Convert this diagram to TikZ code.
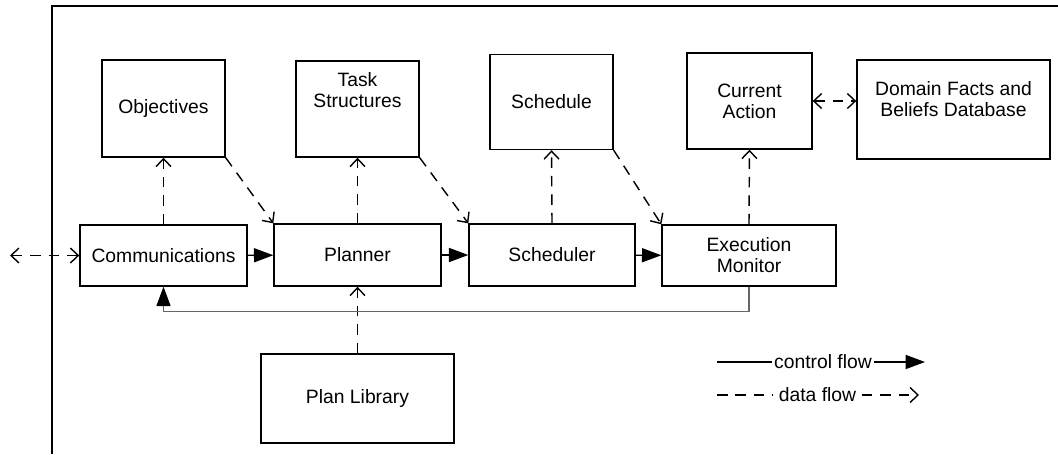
\documentclass[tikz,border=0pt]{standalone}
\usepackage{fontspec}
\setmainfont{Liberation Sans}
\usetikzlibrary{arrows.meta,positioning}

\begin{document}
\begin{tikzpicture}[x=0.02cm,y=-0.02cm,
font=\fontsize{11}{12}\selectfont,
>={Straight Barb[length=4.5pt,width=8.5pt]},
box/.style={draw,line width=0.8pt,inner sep=0pt,align=center},
data/.style={line width=0.8pt,dash pattern=on 6pt off 4.5pt},
ctrl/.style={line width=0.8pt,-{Triangle[length=11pt,width=8pt,color=black]}}]
\useasboundingbox (0,0) rectangle (1058,454);
\draw[line width=1.1pt] (1058,6) -- (52,6) -- (52,454);
% stores along the top
\node[box,minimum width=2.46cm,minimum height=1.94cm] (obj) at (163.5,108.5){Objectives};
\node[box,minimum width=2.46cm,minimum height=1.92cm] (task) at (357.5,109){};
\node[align=center] (tasktxt) at (357.5,90){Task\\Structures};
\node[box,minimum width=2.46cm,minimum height=1.9cm] (sch) at (551.5,102){Schedule};
\node[box,minimum width=2.5cm,minimum height=1.92cm] (cur) at (749.5,101){Current\\Action};
\node[box,minimum width=3.86cm,minimum height=1.98cm] (dom) at (953.5,109.5){};
\node[align=center] (domtxt) at (953.5,99){Domain Facts and\\Beliefs Database};
% processing chain
\node[box,minimum width=3.34cm,minimum height=1.22cm] (comm) at (163.5,255.5){Communications};
\node[box,minimum width=3.34cm,minimum height=1.24cm] (plan) at (357.5,255){Planner};
\node[box,minimum width=3.32cm,minimum height=1.24cm] (sched) at (552,255){Scheduler};
\node[box,minimum width=3.48cm,minimum height=1.22cm] (exec) at (749,255.5){Execution\\Monitor};
\node[box,minimum width=3.86cm,minimum height=1.78cm] (lib) at (357.5,398.5){Plan Library};
\coordinate (ext) at (10,255.5);
% data flow
\draw[data,<->] (ext) -- (comm.west);
\draw[data,->] (comm.north) -- (obj.south);
\draw[data,->] (obj.south east) -- (plan.north west);
\draw[data,->] (plan.north) -- (task.south);
\draw[data,->] (task.south east) -- (sched.north west);
\draw[data,->] (sched.north) -- (sch.south);
\draw[data,->] (sch.south east) -- (exec.north west);
\draw[data,->] (exec.north) -- (cur.south);
\draw[data,<->] (cur.east) -- (dom.west |- cur.east);
\draw[data,->] (lib.north) -- (plan.south);
% control flow
\draw[ctrl] (comm) -- (plan);
\draw[ctrl] (plan) -- (sched);
\draw[ctrl] (sched) -- (exec);
\draw[ctrl,line width=0.6pt,draw=black!60] (exec.south) -- ++(0,25) -| (comm.south);
% legend
\node (ctrltxt) at (823,362)[inner sep=1pt]{control flow};
\node (datatxt) at (817.5,395)[inner sep=3pt]{data flow};
\coordinate (c1) at (717,362);
\coordinate (c2) at (925,362);
\coordinate (d1) at (717,395);
\coordinate (d2) at (919,395);
\draw[line width=0.8pt] (c1) -- (ctrltxt);
\draw[ctrl] (ctrltxt) -- (c2);
\draw[data] (d1) -- (datatxt);
\draw[data,->] (datatxt) -- (d2);
\end{tikzpicture}
\end{document}
